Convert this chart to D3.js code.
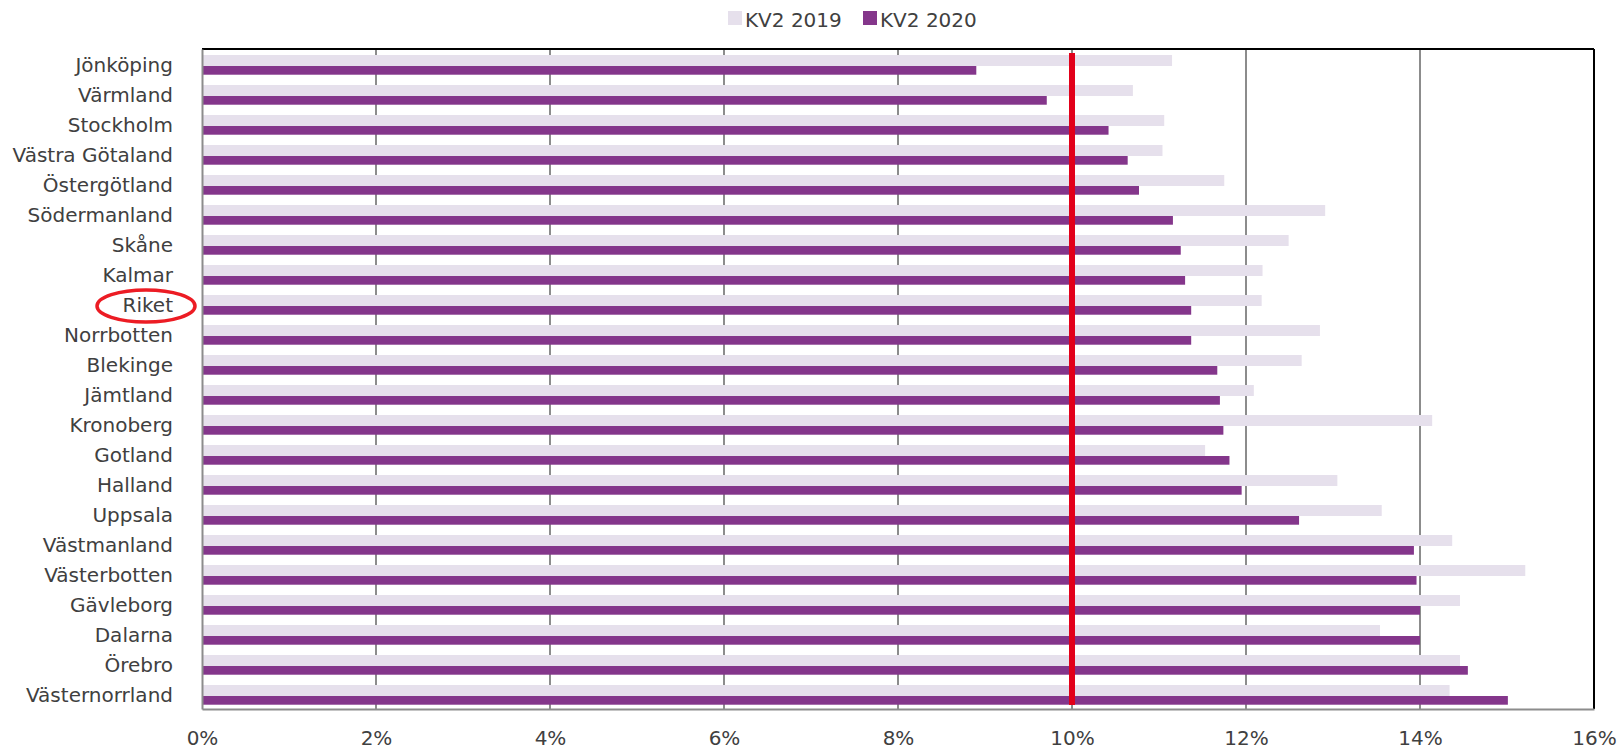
<!DOCTYPE html>
<html>
<head>
<meta charset="utf-8">
<script src="https://cdn.jsdelivr.net/npm/d3@7"></script>
<style>
  body { margin: 0; background: #fff; }
  text { font-family: "DejaVu Sans", Verdana, sans-serif; fill: #404040; }
</style>
</head>
<body>
<svg id="chart" width="1622" height="749"></svg>
<script>
// regions, top to bottom
var categories = ["Jönköping", "Värmland", "Stockholm", "Västra Götaland", "Östergötland",
  "Södermanland", "Skåne", "Kalmar", "Riket", "Norrbotten", "Blekinge", "Jämtland",
  "Kronoberg", "Gotland", "Halland", "Uppsala", "Västmanland", "Västerbotten",
  "Gävleborg", "Dalarna", "Örebro", "Västernorrland"];

var kv2019 = [11.15, 10.70, 11.06, 11.04, 11.75, 12.91, 12.49, 12.19, 12.18, 12.85, 12.64,
  12.09, 14.14, 11.53, 13.05, 13.56, 14.37, 15.21, 14.46, 13.54, 14.46, 14.34];

var kv2020 = [8.90, 9.71, 10.42, 10.64, 10.77, 11.16, 11.25, 11.30, 11.37, 11.37, 11.67,
  11.70, 11.74, 11.81, 11.95, 12.61, 13.93, 13.96, 14.00, 14.00, 14.55, 15.01];

var seriesNames = ["KV2 2019", "KV2 2020"];
var xTicks = [0, 2, 4, 6, 8, 10, 12, 14, 16];
var referenceValue = 10;
var highlighted = "Riket";

/****** Layout ******/
var svg = d3.select("#chart"),
    margins = {top: 49, right: 28, bottom: 40, left: 202},
    width = 1622 - margins.left - margins.right,
    height = 749 - margins.top - margins.bottom;

var colors = ["#e6e0ec", "#84368b"];

var x = d3.scaleLinear().domain([0, 16]).range([0, width]);
var y = d3.scaleBand().domain(categories).range([0, height]);
var bw = y.bandwidth();

var chart = svg.append("g")
    .attr("transform", "translate(" + margins.left + "," + margins.top + ")");

// gridlines
chart.append("g")
    .selectAll("line")
    .data(xTicks.filter(function (d) { return d > 0 && d < 16; }))
    .enter().append("line")
    .attr("x1", function (d) { return x(d); })
    .attr("x2", function (d) { return x(d); })
    .attr("y1", 0).attr("y2", height)
    .attr("stroke", "#8c8c8c").attr("stroke-width", 2);

// bars
var rows = categories.map(function (c, i) { return {name: c, a: kv2019[i], b: kv2020[i]}; });

chart.append("g").selectAll("rect")
    .data(rows)
    .enter().append("rect")
    .attr("x", x(0))
    .attr("y", function (d) { return y(d.name) + bw * 0.2; })
    .attr("width", function (d) { return x(d.a) - x(0); })
    .attr("height", bw * 0.367)
    .attr("fill", colors[0]);

chart.append("g").selectAll("rect")
    .data(rows)
    .enter().append("rect")
    .attr("x", x(0))
    .attr("y", function (d) { return y(d.name) + bw * 0.567; })
    .attr("width", function (d) { return x(d.b) - x(0); })
    .attr("height", bw * 0.29)
    .attr("fill", colors[1]);

// plot border: black top/right, grey axes
chart.append("line").attr("x1", 0).attr("x2", width).attr("y1", 0).attr("y2", 0)
    .attr("stroke", "#000").attr("stroke-width", 2);
chart.append("line").attr("x1", width).attr("x2", width).attr("y1", 0).attr("y2", height)
    .attr("stroke", "#000").attr("stroke-width", 2);

var xAxis = d3.axisBottom(x).tickValues(xTicks).tickSize(0)
    .tickFormat(function (d) { return d + "%"; });
var gx = chart.append("g")
    .attr("transform", "translate(0," + height + ")")
    .call(xAxis);
gx.select(".domain").attr("stroke", "#8c8c8c").attr("stroke-width", 2);
gx.selectAll("text").attr("y", 36).attr("dy", null)
    .style("font-size", "20px").attr("fill", "#404040");

var yAxis = d3.axisLeft(y).tickSize(0).tickPadding(29);
var gy = chart.append("g").call(yAxis);
gy.select(".domain").attr("stroke", "#8c8c8c").attr("stroke-width", 2);
gy.selectAll("text").attr("dy", "0.4em")
    .style("font-size", "20px").attr("fill", "#404040");

// 10% reference line
chart.append("line")
    .attr("x1", x(referenceValue)).attr("x2", x(referenceValue))
    .attr("y1", 4).attr("y2", height - 4)
    .attr("stroke", "#e2001a").attr("stroke-width", 6);

// circle around Riket
chart.append("ellipse")
    .attr("cx", -56)
    .attr("cy", y(highlighted) + bw / 2 + 2)
    .attr("rx", 49).attr("ry", 16)
    .attr("fill", "none").attr("stroke", "#ec1c24").attr("stroke-width", 3.5);

/****** Legend ******/
var legend = svg.append("g").attr("transform", "translate(728,11)");
var legendX = [0, 135];
seriesNames.forEach(function (s, i) {
  var item = legend.append("g").attr("transform", "translate(" + legendX[i] + ",0)");
  item.append("rect").attr("width", 14).attr("height", 14).attr("fill", colors[i]);
  item.append("text").attr("x", 17).attr("y", 16)
      .style("font-size", "20px").text(s);
});
</script>
</body>
</html>
